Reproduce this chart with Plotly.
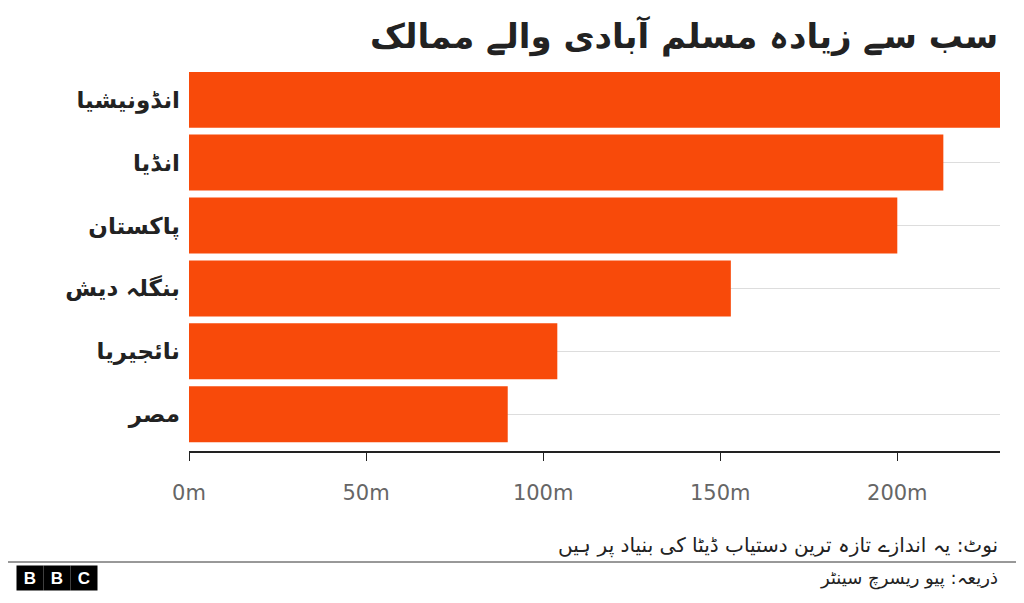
import plotly.graph_objects as go

countries = ["انڈونیشیا", "انڈیا", "پاکستان", "بنگلہ دیش", "نائجیریا", "مصر"]
muslims_m = [229, 213, 200, 153, 104, 90]
tick_vals = [0, 50, 100, 150, 200]
tick_text = ["0m", "50m", "100m", "150m", "200m"]

title = "سب سے زیادہ مسلم آبادی والے ممالک"
note = "نوٹ: یہ اندازے تازہ ترین دستیاب ڈیٹا کی بنیاد پر ہیں"
source = "ذریعہ: پیو ریسرچ سینٹر"

bar_color = "#f84a0a"
positions = list(range(len(countries)))

# page has an 8px body margin, so the figure is drawn 8px smaller
L, R, T, B = 181, 24, 64, 151
PW = 1016 - L - R
PH = 595 - T - B

fig = go.Figure(go.Bar(
    x=muslims_m, y=positions, orientation="h",
    marker=dict(color=bar_color, line=dict(width=0)),
    width=0.89, hoverinfo="x",
))


def logo_box(letter, cx):
    return dict(text="<b>" + letter + "</b>", xref="paper", yref="paper",
                x=(cx - L) / PW, y=0, yshift=-126, xanchor="center", yanchor="middle",
                showarrow=False, font=dict(size=17, color="white", family="Liberation Sans"),
                bgcolor="black", width=24, height=22)


fig.update_layout(
    width=1016, height=595,
    margin=dict(l=L, r=R, t=T, b=B),
    paper_bgcolor="white", plot_bgcolor="white",
    font=dict(family="DejaVu Sans", color="#222222"),
    showlegend=False,
    annotations=[
        dict(text="<b>" + title + "</b>", xref="paper", yref="paper", x=1.0, y=1.0,
             xanchor="right", yanchor="middle", yshift=36, showarrow=False,
             font=dict(size=34, color="#222222")),
        dict(text=note, xref="paper", yref="paper", x=1.0, y=0, yshift=-93,
             xanchor="right", yanchor="middle", showarrow=False,
             font=dict(size=20, color="#222222")),
        dict(text=source, xref="paper", yref="paper", x=1.0, y=0, yshift=-126,
             xanchor="right", yanchor="middle", showarrow=False,
             font=dict(size=18, color="#222222")),
        logo_box("B", 22), logo_box("B", 49), logo_box("C", 76),
    ],
    shapes=[
        dict(type="line", xref="paper", yref="paper", x0=-L / PW, x1=1.0 + R / PW,
             y0=-110 / PH, y1=-110 / PH, line=dict(color="#333333", width=1)),
        dict(type="line", xref="paper", yref="paper", x0=0, x1=1, y0=0, y1=0,
             line=dict(color="#222222", width=2)),
    ],
)

fig.update_xaxes(
    range=[0, 229], tickvals=tick_vals, ticktext=tick_text,
    showgrid=False, zeroline=False, showline=False,
    ticks="outside", ticklen=8, tickcolor="#222222",
    tickfont=dict(size=21, color="#666666"), ticklabelstandoff=14,
)
fig.update_yaxes(
    range=[5.6, -0.44], tickvals=positions,
    ticktext=["<b>" + c + "</b>" for c in countries],
    tickfont=dict(size=23, color="#222222"), ticklabelstandoff=8,
    showgrid=True, gridcolor="#dddddd", zeroline=False, ticks="",
)

fig.write_html("out.html")
